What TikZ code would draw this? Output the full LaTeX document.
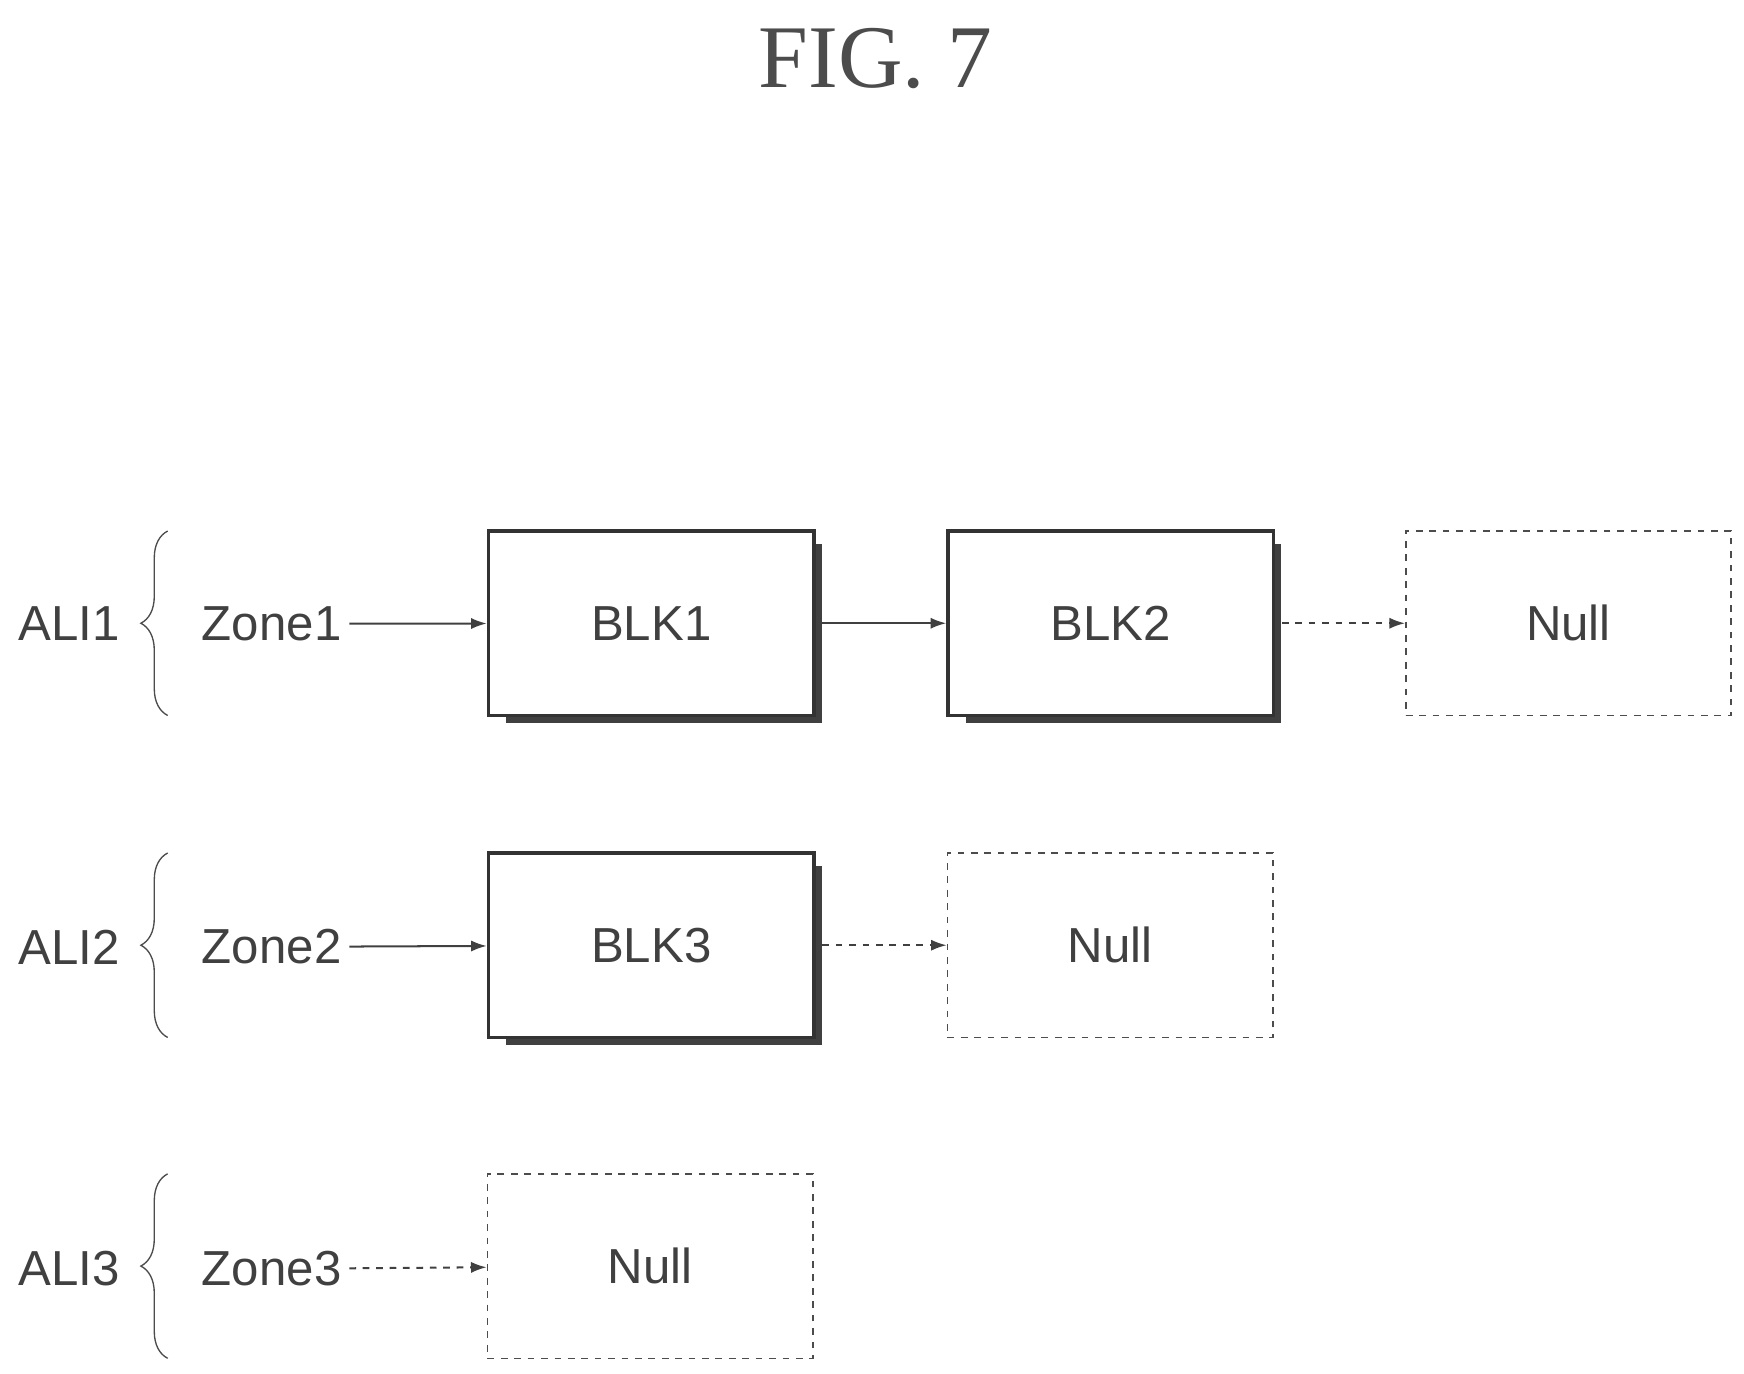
\documentclass[tikz,border=0pt]{standalone}
\usepackage{fontspec}
\setmainfont{Liberation Serif}
\newfontfamily\lab{Liberation Sans}
\usetikzlibrary{arrows.meta,decorations.pathreplacing}
\begin{document}
\begin{tikzpicture}[x=0.5pt,y=-0.5pt,
  txt/.style={font=\lab\fontsize{22}{26}\selectfont, text=black!75},
  blk/.style={draw=black!80,line width=1.6pt,minimum width=145.5pt,minimum height=82.5pt,inner sep=0pt,font=\lab\fontsize{22}{26}\selectfont,text=black!75},
  nul/.style={draw=black!70,dashed,line width=0.7pt,minimum width=145.5pt,minimum height=82.5pt,inner sep=0pt,font=\lab\fontsize{22}{26}\selectfont,text=black!75},
  ar/.style={-{Latex[length=7pt,width=5pt]},line width=0.9pt,black!75},
  dar/.style={ar,dashed},
  br/.style={decorate,decoration={brace,amplitude=12pt,mirror},line width=0.6pt,black!70}]
\useasboundingbox (0,0) rectangle (1560,1229);
\node[font=\fontsize{40}{44}\selectfont,text=black!70] (title) at (783,52) {FIG. 7};
% shadows
\foreach \x/\y in {437/475,848/475,437/763}{
  \fill[black!75] (\x+16,\y+165) rectangle (\x+298,\y+172);
  \fill[black!75] (\x+291,\y+12) rectangle (\x+298,\y+172);
}
\node[blk,fill=white] (b1) at (582.5,557.5) {BLK1};
\node[blk,fill=white] (b2) at (993.5,557.5) {BLK2};
\node[nul] (n1) at (1403,557.5) {Null};
\node[blk,fill=white] (b3) at (582.5,845.5) {BLK3};
\node[nul] (n2) at (993,845.5) {Null};
\node[nul] (n3) at (581.5,1132.5) {Null};
\node[txt] (z1) at (243,558) {Zone1};
\node[txt] (z2) at (243,847) {Zone2};
\node[txt] (z3) at (243,1135) {Zone3};
\node[txt] (a1) at (62,558) {ALI1};
\node[txt] (a2) at (62,847) {ALI2};
\node[txt] (a3) at (62,1135) {ALI3};
\coordinate (t1) at (150,475); \coordinate (u1) at (150,640);
\coordinate (t2) at (150,763); \coordinate (u2) at (150,928);
\coordinate (t3) at (150,1050); \coordinate (u3) at (150,1215);
\draw[br] (t1) -- (u1);
\draw[br] (t2) -- (u2);
\draw[br] (t3) -- (u3);
\draw[ar] (z1) -- (b1);
\draw[ar] (b1) -- (b2);
\draw[dar] (b2.east) ++(6,0) -- (n1);
\draw[ar] (z2) -- (b3);
\draw[dar] (b3.east) ++(6,0) -- (n2);
\draw[dar] (z3) -- (n3);
\end{tikzpicture}
\end{document}
